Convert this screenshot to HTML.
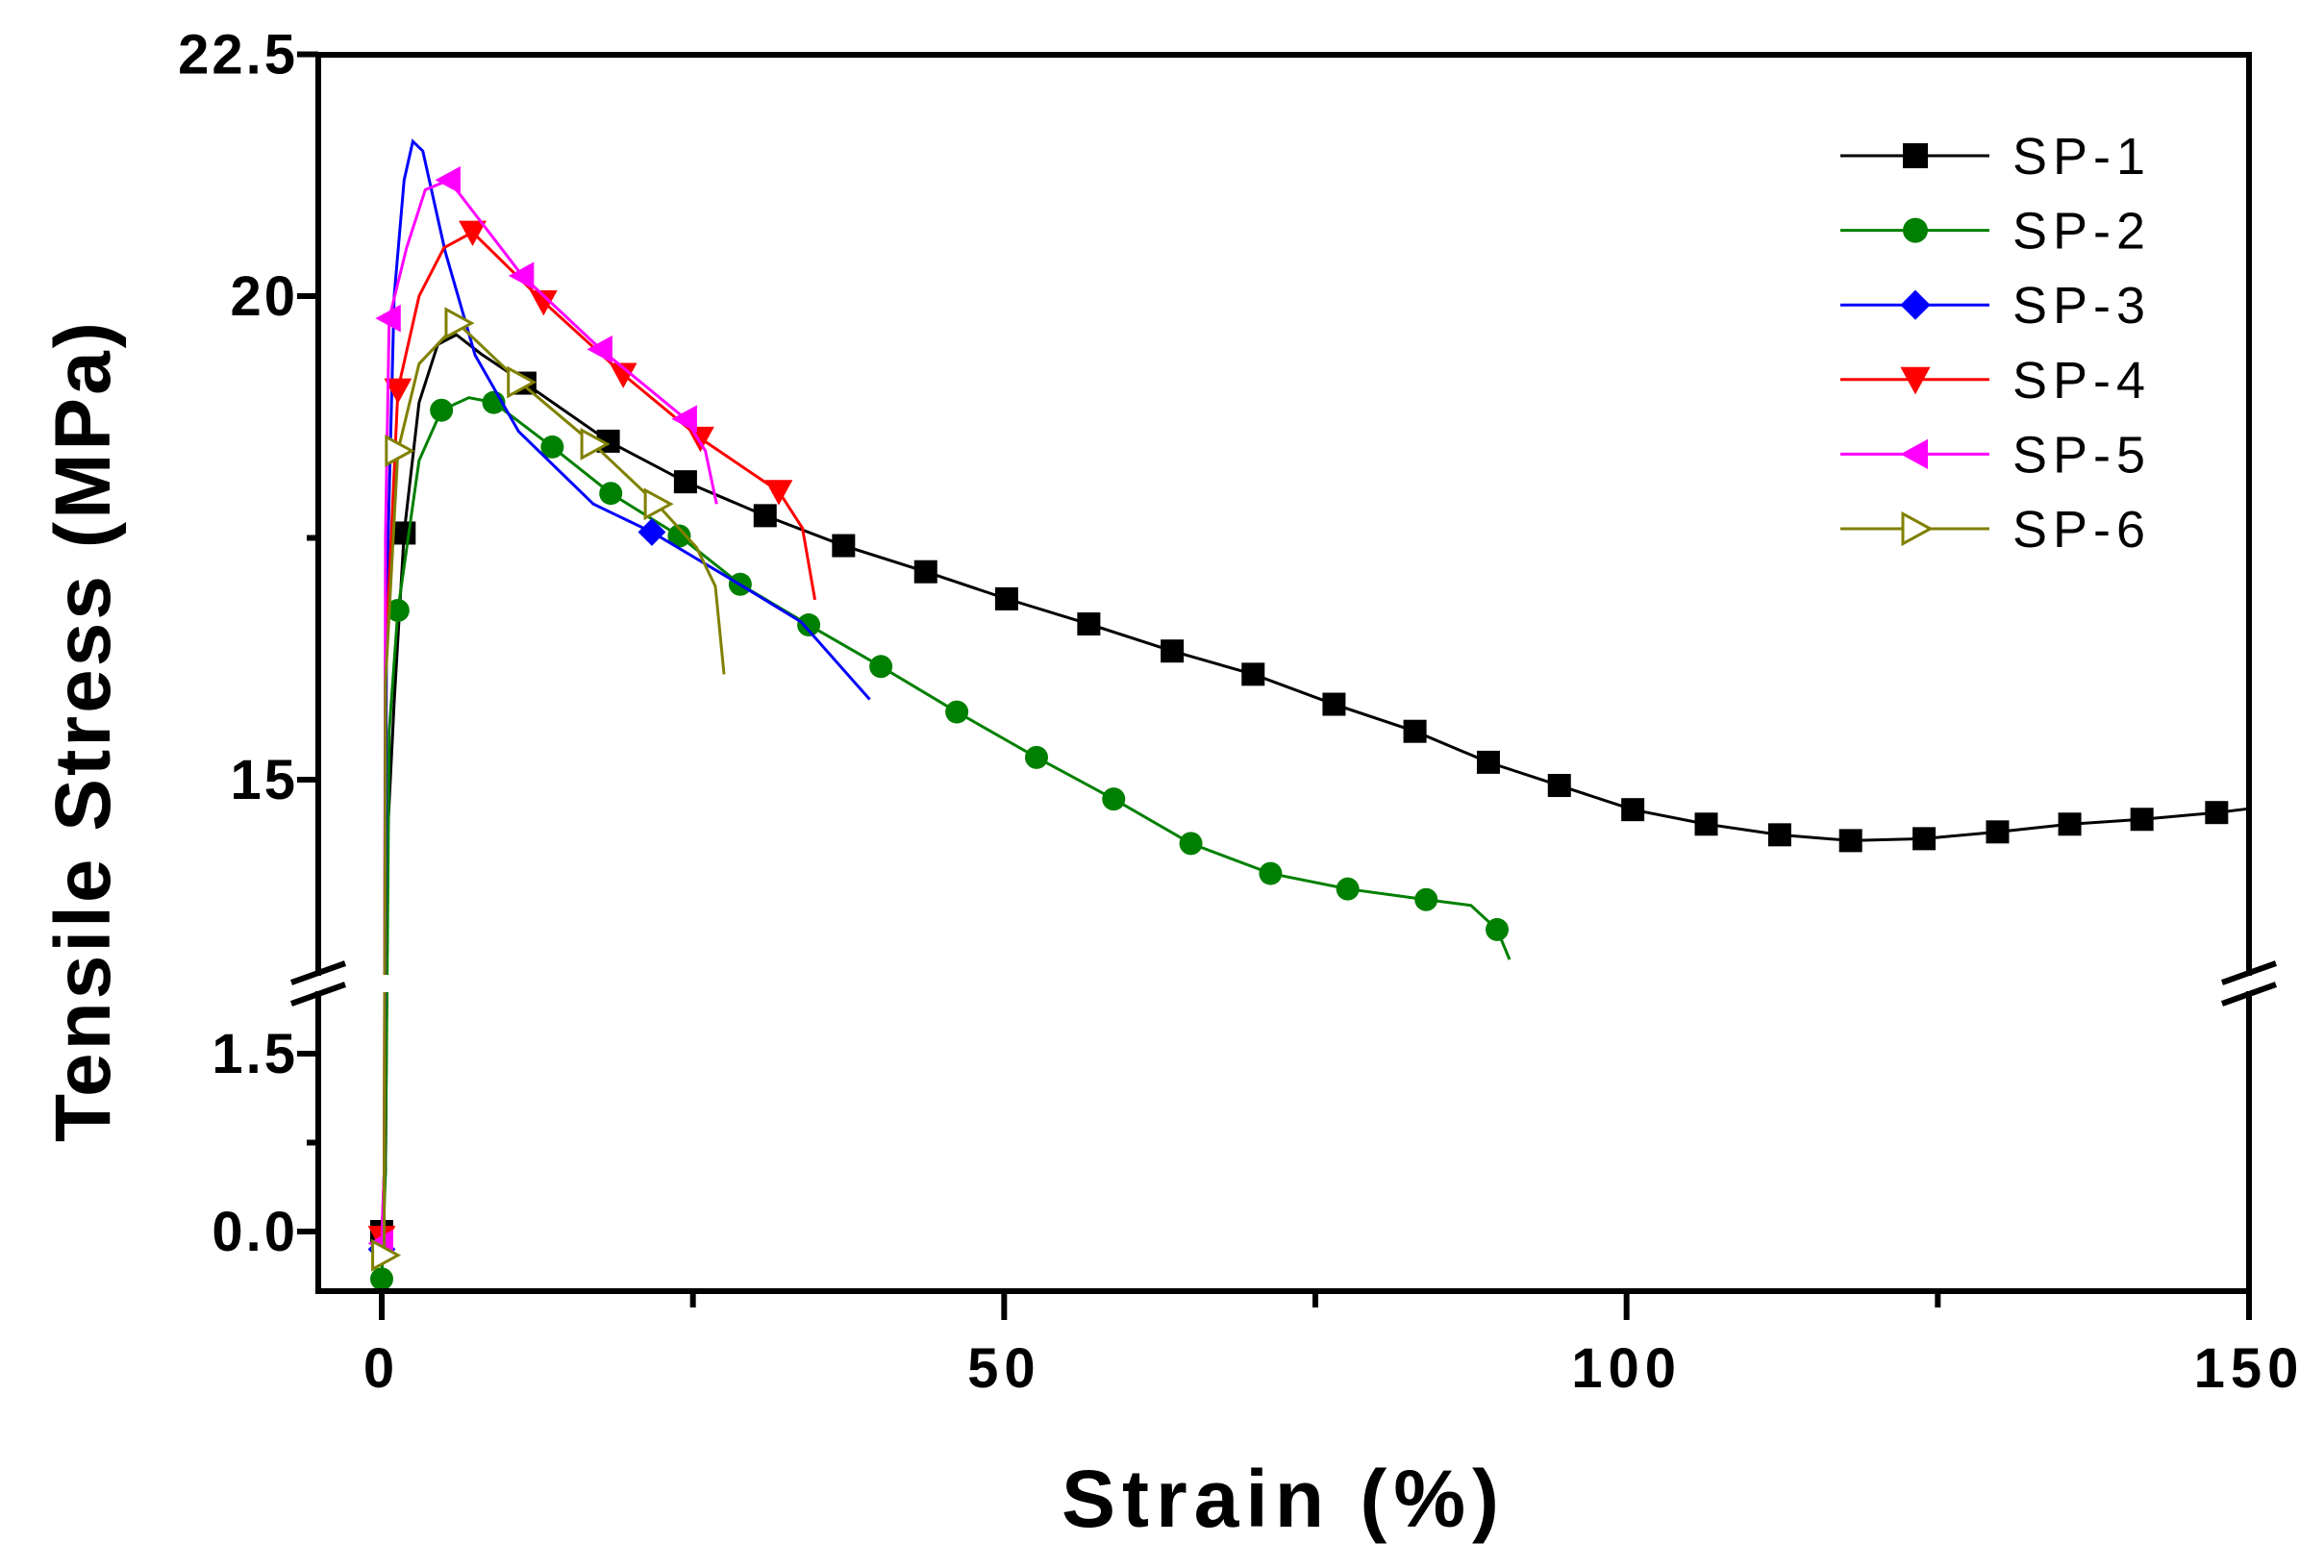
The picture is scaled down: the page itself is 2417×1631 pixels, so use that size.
<!DOCTYPE html>
<html><head><meta charset="utf-8">
<style>
html,body{margin:0;padding:0;background:#fff;}
svg{display:block;font-family:"Liberation Sans",sans-serif;}
</style></head>
<body>
<svg id="chart" width="2417" height="1631" viewBox="0 0 2417 1631" xmlns="http://www.w3.org/2000/svg">
<rect width="2417" height="1631" fill="#fff"/>
<g id="series-layer"></g>
<g id="axes-layer"></g>
<g id="legend"></g>
<text x="1335" y="1588" text-anchor="middle" font-size="84" font-weight="bold" letter-spacing="7">Strain (%)</text>
<text transform="translate(114,760) rotate(-90)" text-anchor="middle" font-size="82" font-weight="bold" letter-spacing="3">Tensile Stress (MPa)</text>
</svg>
<script>
const seriesNames = ["SP-1","SP-2","SP-3","SP-4","SP-5","SP-6"];
const seriesColors = ["#000000","#008000","#0000ff","#ff0000","#ff00ff","#808000"];
const xTicks = [0,50,100,150];
const xMinorTicks = [25,75,125];
const yUpperTicks = [15,20,22.5];
const yUpperMinor = [17.5];
const yLowerTicks = [0,1.5];
const yLowerMinor = [0.75];
const yUpperLabels = ["15","20","22.5"];
const yLowerLabels = ["0.0","1.5"];

const sp1Line = [[0,0],[0.3,0.5],[0.5,14.5],[1,15.8],[1.8,17.55],[3,18.9],[4.5,19.5],[6,19.6],[8,19.4],[11.5,19.1],[18.2,18.5],[24.4,18.08],[30.8,17.73],[37.1,17.42],[43.7,17.15],[50.2,16.87],[56.8,16.61],[63.5,16.33],[70,16.09],[76.5,15.78],[83,15.5],[88.9,15.18],[94.6,14.94],[100.5,14.69],[106.4,14.54],[112.3,14.43],[118,14.37],[123.9,14.39],[129.8,14.46],[135.6,14.54],[141.4,14.59],[147.4,14.66],[150,14.7]];
const sp1Marks = [[0,0],[1.8,17.55],[11.5,19.1],[18.2,18.5],[24.4,18.08],[30.8,17.73],[37.1,17.42],[43.7,17.15],[50.2,16.87],[56.8,16.61],[63.5,16.33],[70,16.09],[76.5,15.78],[83,15.5],[88.9,15.18],[94.6,14.94],[100.5,14.69],[106.4,14.54],[112.3,14.43],[118,14.37],[123.9,14.39],[129.8,14.46],[135.6,14.54],[141.4,14.59],[147.4,14.66]];
const sp2Line = [[0,-0.4],[0.3,0.5],[0.6,15.5],[1.3,16.75],[3,18.3],[4.8,18.82],[7,18.95],[9,18.9],[13.7,18.44],[18.4,17.96],[23.9,17.52],[28.8,17.02],[34.3,16.6],[40.1,16.17],[46.2,15.7],[52.6,15.23],[58.8,14.8],[65,14.34],[71.4,14.03],[77.6,13.87],[83.9,13.76],[87.5,13.7],[89.6,13.45],[90.6,13.14]];
const sp2Marks = [[0,-0.4],[1.3,16.75],[4.8,18.82],[9,18.9],[13.7,18.44],[18.4,17.96],[23.9,17.52],[28.8,17.02],[34.3,16.6],[40.1,16.17],[46.2,15.7],[52.6,15.23],[58.8,14.8],[65,14.34],[71.4,14.03],[77.6,13.87],[83.9,13.76],[89.6,13.45]];
const sp3Line = [[0,-0.15],[0.2,0.5],[0.4,16.9],[1,20],[1.8,21.2],[2.5,21.6],[3.3,21.5],[5.1,20.46],[7.5,19.39],[11,18.6],[17,17.85],[21.7,17.56],[29,17.0],[33.7,16.63],[39.2,15.83]];
const sp3Marks = [[0,-0.15],[21.7,17.56]];
const sp4Line = [[0,-0.05],[0.2,0.5],[0.3,16.2],[1.3,19.03],[3,20.0],[5,20.5],[7.3,20.66],[13,19.94],[19.4,19.19],[25.6,18.53],[31.9,17.98],[33.8,17.6],[34.8,16.86]];
const sp4Marks = [[0,-0.05],[1.3,19.03],[7.3,20.66],[13,19.94],[19.4,19.19],[25.6,18.53],[31.9,17.98]];
const sp5Line = [[0,-0.1],[0.2,0.5],[0.3,17.5],[0.6,19.77],[2,20.5],[3.5,21.1],[5.4,21.2],[11.3,20.21],[17.6,19.45],[24.4,18.73],[26,18.4],[26.9,17.85]];
const sp5Marks = [[0,-0.1],[0.6,19.77],[5.4,21.2],[11.3,20.21],[17.6,19.45],[24.4,18.73]];
const sp6Line = [[0.2,-0.2],[0.2,0.5],[0.3,16.0],[1.3,18.4],[3,19.3],[6.1,19.72],[11.1,19.11],[17,18.47],[22.1,17.85],[25.3,17.4],[26.8,17.0],[27.5,16.09]];
const sp6Marks = [[0.2,-0.2],[1.3,18.4],[6.1,19.72],[11.1,19.11],[17,18.47],[22.1,17.85]];
const seriesLines = [sp1Line,sp2Line,sp3Line,sp4Line,sp5Line,sp6Line];
const seriesMarks = [sp1Marks,sp2Marks,sp3Marks,sp4Marks,sp5Marks,sp6Marks];
const markerShapes = ["square","circle","diamond","down","left","right-open"];

const NS="http://www.w3.org/2000/svg";
const L=331,R=2339,T=57,B=1343;
const upTop=1012, lowTop=1034;
function xs(v){return 397+(v/150)*(2339-397);}
function ys(v){
  if(v>=13) return 308-(v-20)*100.6;
  if(v<=2) return 1281-v*123.3;
  return 1012+(13-v)/11*22;
}
function mk(tag,attrs,parent){const e=document.createElementNS(NS,tag);for(const k in attrs)e.setAttribute(k,attrs[k]);parent.appendChild(e);return e;}

function marker(shape,color,x,y,parent,s){
  let e;
  if(shape==="square"){e=mk("rect",{x:x-s,y:y-s,width:2*s,height:2*s,fill:color},parent);}
  else if(shape==="circle"){e=mk("circle",{cx:x,cy:y,r:s,fill:color},parent);}
  else if(shape==="diamond"){e=mk("polygon",{points:`${x},${y-s*1.2} ${x+s*1.2},${y} ${x},${y+s*1.2} ${x-s*1.2},${y}`,fill:color},parent);}
  else if(shape==="down"){e=mk("polygon",{points:`${x-s*1.2},${y-s} ${x+s*1.2},${y-s} ${x},${y+s*1.2}`,fill:color},parent);}
  else if(shape==="left"){e=mk("polygon",{points:`${x-s*1.2},${y} ${x+s},${y-s*1.2} ${x+s},${y+s*1.2}`,fill:color},parent);}
  else {e=mk("polygon",{points:`${x+s*1.2},${y} ${x-s},${y-s*1.2} ${x-s},${y+s*1.2}`,fill:"#fff",stroke:color,"stroke-width":3},parent);}
  return e;
}

const sl=document.getElementById("series-layer");
seriesLines.forEach((line,i)=>{
  const g=mk("g",{},sl);
  
  
  const p=mk("polyline",{points:line.map(d=>xs(d[0])+","+ys(d[1])).join(" "),fill:"none",stroke:seriesColors[i],"stroke-width":3},g);
  
  
  seriesMarks[i].forEach(d=>{
    const m=marker(markerShapes[i],seriesColors[i],xs(d[0]),ys(d[1]),g,12);
    
    
  });
});

const ax=document.getElementById("axes-layer");
mk("rect",{x:L-40,y:upTop+2,width:R-L+80,height:lowTop-upTop-4,fill:"#fff"},ax);
const frame=[[L,T,R,T],[L,T,L,upTop],[L,lowTop,L,B],[R,T,R,upTop],[R,lowTop,R,B],[L,B,R,B]];
frame.forEach(f=>{const e=mk("line",{x1:f[0],y1:f[1],x2:f[2],y2:f[3],stroke:"#000","stroke-width":6,"stroke-linecap":"square"},ax);
  });
[[L],[R]].forEach(([x])=>{
  [upTop,lowTop].forEach(y=>{
    const e=mk("line",{x1:x-28,y1:y+10,x2:x+28,y2:y-10,stroke:"#000","stroke-width":6},ax);
    
  });
});
xTicks.forEach((v,i)=>{
  const t=mk("line",{x1:xs(v),y1:B,x2:xs(v),y2:B+30,stroke:"#000","stroke-width":6},ax);
  
  const lb=mk("text",{x:xs(v),y:1443,"text-anchor":"middle","font-size":58,"font-weight":"bold","letter-spacing":6},ax);
  lb.textContent=String(v);
  
});
xMinorTicks.forEach(v=>{
  const t=mk("line",{x1:xs(v),y1:B,x2:xs(v),y2:B+17,stroke:"#000","stroke-width":6},ax);
  
});
yUpperTicks.concat(yLowerTicks).forEach((v,i)=>{
  const y=ys(v);
  const t=mk("line",{x1:L-22,y1:y,x2:L,y2:y,stroke:"#000","stroke-width":6},ax);
  
  const labels=yUpperLabels.concat(yLowerLabels);
  const lb=mk("text",{x:310,y:y+20,"text-anchor":"end","font-size":58,"font-weight":"bold","letter-spacing":3},ax);
  lb.textContent=labels[i];
  
});
yUpperMinor.concat(yLowerMinor).forEach(v=>{
  const t=mk("line",{x1:L-12,y1:ys(v),x2:L,y2:ys(v),stroke:"#000","stroke-width":6},ax);
  
});

const lg=document.getElementById("legend");
seriesNames.forEach((n,i)=>{
  const y=162+i*77.6;
  const g=mk("g",{},lg);
  
  mk("line",{x1:1914,y1:y,x2:2069,y2:y,stroke:seriesColors[i],"stroke-width":3},g);
  marker(markerShapes[i],seriesColors[i],1992,y,g,13);
  const t=mk("text",{x:2093,y:y+19,"font-size":54,"letter-spacing":6},g);
  t.textContent=n;
});
</script>
</body></html>
